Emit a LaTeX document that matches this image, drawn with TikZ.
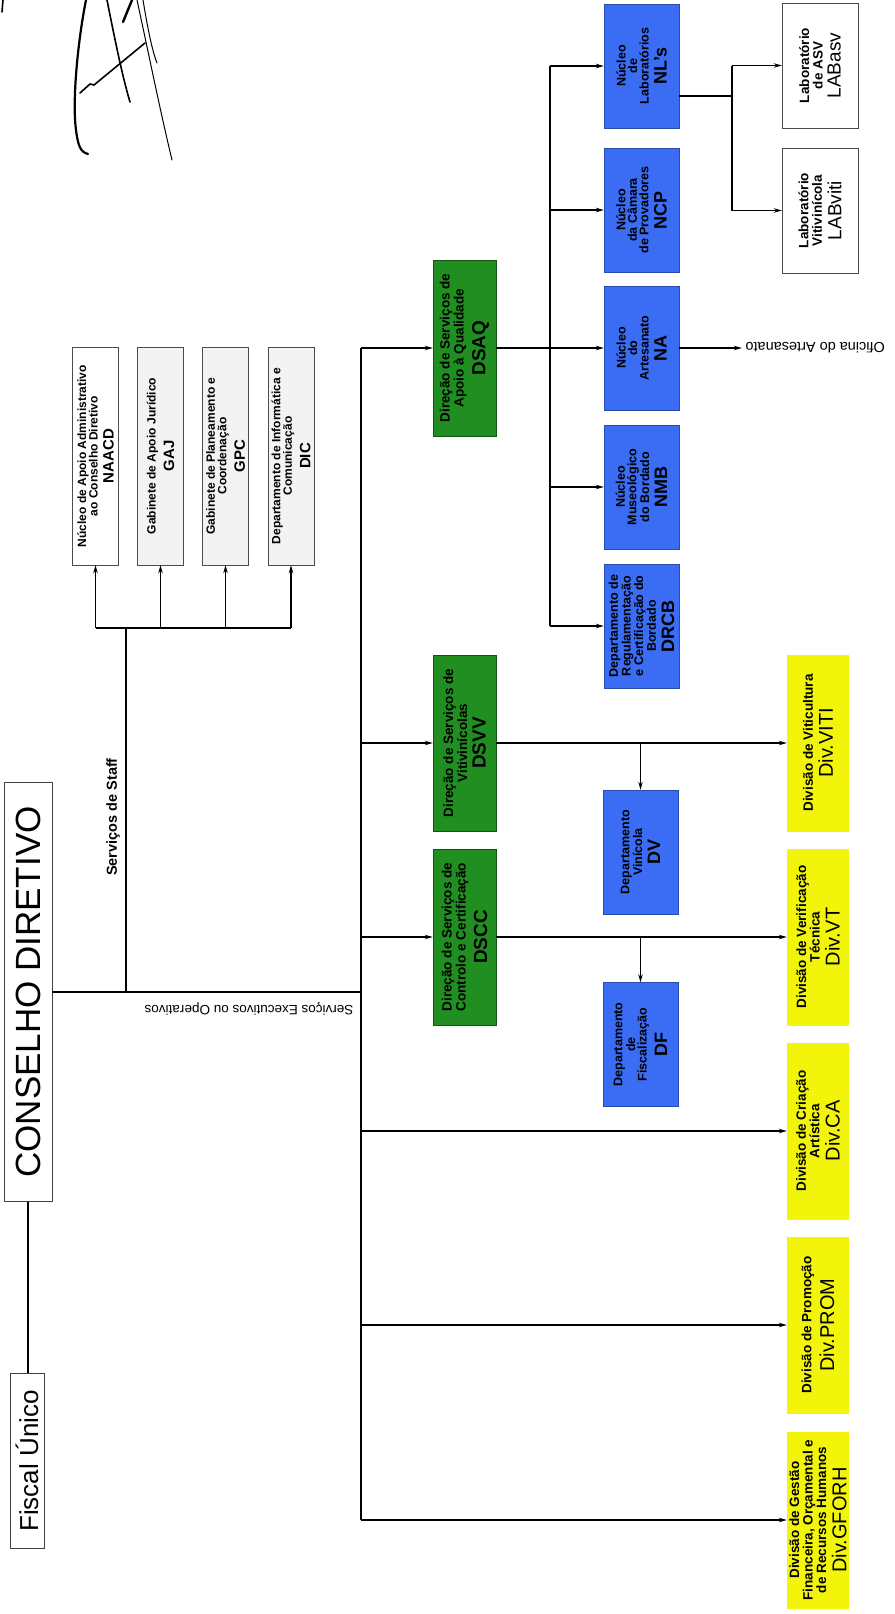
\documentclass[tikz,border=0pt]{standalone}
\usepackage{fontspec}
\setmainfont{Liberation Sans}
\usetikzlibrary{arrows.meta}
\definecolor{dsgreen}{RGB}{32,142,32}
\definecolor{nucblue}{RGB}{58,108,244}
\definecolor{divyellow}{RGB}{242,245,10}
\definecolor{staffgray}{RGB}{243,243,243}
\newcommand{\ab}[2]{\\[4.5pt]{\fontsize{#1}{#1}\selectfont #2}}

\begin{document}
\begin{tikzpicture}[x=1pt,y=-1pt]
		\useasboundingbox (0,0) rectangle (894,1614);
		\tikzstyle{box}=[rotate=90,align=center,inner sep=1pt,font=\bfseries\fontsize{10}{11}\selectfont]
		\tikzstyle{cdbox}=[rotate=90,draw=black!75,fill=white,inner sep=0pt,minimum width=419pt,minimum height=48pt,font=\fontsize{35}{35}\selectfont]
		\tikzstyle{fubox}=[rotate=90,draw=black!75,fill=white,inner sep=0pt,minimum width=175pt,minimum height=34pt,font=\fontsize{26}{26}\selectfont]
		\tikzstyle{staff}=[box,draw=black!70,fill=staffgray,minimum width=218pt,minimum height=46pt,font=\bfseries\fontsize{12}{11.5}\selectfont]
		\tikzstyle{dirbox}=[box,fill=dsgreen,draw=dsgreen!60!black,minimum width=176pt,minimum height=63pt,font=\bfseries\fontsize{13.5}{14}\selectfont]
		\tikzstyle{nucbox}=[box,fill=nucblue,draw=nucblue!70!black,minimum width=124pt,minimum height=75pt,font=\bfseries\fontsize{12.5}{11.5}\selectfont]
		\tikzstyle{divbox}=[box,fill=divyellow,minimum width=177pt,minimum height=62pt,font=\bfseries\fontsize{13.5}{13.5}\selectfont]
		\tikzstyle{labbox}=[box,draw=black!70,fill=white,minimum width=125pt,minimum height=76pt,font=\bfseries\fontsize{13.5}{13.5}\selectfont]
		\tikzstyle{wire}=[line width=1.2pt]
		\tikzstyle{conn}=[-{Stealth[length=8pt,width=4.5pt]},line width=1.2pt]
		\tikzstyle{pen}=[line width=1.6pt,line cap=round]

		% signature
		\draw[pen,line width=2.2pt] (86,0) .. controls (78,40) and (72,100) .. (76,130) .. controls (78,145) and (80,152) .. (88,154);
		\draw[pen] (107,0) .. controls (115,40) and (122,75) .. (130,102);
		\draw[pen,line width=1pt] (137,0) .. controls (150,60) and (160,110) .. (172,160);
		\draw[pen,line width=2.4pt] (132,0) -- (123,22);
		\draw[pen,line width=1pt] (143,0) .. controls (148,30) and (152,50) .. (157,63);
		\draw[pen] (80,93) -- (90,84) -- (94,85) -- (145,43);
		\draw[pen] (3,0) -- (2,12);

		% board
		\node[cdbox] (cd) at (28,992) {CONSELHO DIRETIVO};
		\node[fubox] (fu) at (27,1461) {Fiscal Único};

		% staff services
		\node[staff,fill=white] (naacd) at (95.5,456) {Núcleo de Apoio Administrativo\\ao Conselho Diretivo\ab{15}{NAACD}};
		\node[staff] (gaj) at (160.5,456) {Gabinete de Apoio Jurídico\ab{15}{GAJ}};
		\node[staff] (gpc) at (225.5,456) {Gabinete de Planeamento e\\Coordenação\ab{15}{GPC}};
		\node[staff] (dic) at (291,456) {Departamento de Informática e\\Comunicação\ab{15}{DIC}};

		% directorates
		\node[dirbox] (dsaq) at (464.5,348) {Direção de Serviços de\\Apoio à Qualidade\ab{19}{DSAQ}};
		\node[dirbox] (dsvv) at (464.5,743) {Direção de Serviços de\\Vitivinícolas\ab{19}{DSVV}};
		\node[dirbox] (dscc) at (464.5,937) {Direção de Serviços de\\Controlo e Certificação\ab{19}{DSCC}};

		% nuclei and departments
		\node[nucbox] (nls) at (641.5,66) {Núcleo\\de\\Laboratórios\ab{18}{NL's}};
		\node[nucbox] (ncp) at (641.5,210) {Núcleo\\da Câmara\\de Provadores\ab{18}{NCP}};
		\node[nucbox] (na) at (641.5,348) {Núcleo\\do\\Artesanato\ab{18}{NA}};
		\node[nucbox] (nmb) at (641.5,487) {Núcleo\\Museológico\\do Bordado\ab{18}{NMB}};
		\node[nucbox] (drcb) at (641.5,626) {Departamento de\\Regulamentação\\e Certificação do\\Bordado\ab{18}{DRCB}};
		\node[nucbox] (dv) at (640.5,852) {Departamento\\Vinícola\ab{18}{DV}};
		\node[nucbox] (df) at (640.5,1044.5) {Departamento\\de\\Fiscalização\ab{18}{DF}};

		% laboratories
		\node[labbox] (labasv) at (820,65.5) {Laboratório\\de ASV\ab{19}{\mdseries LABasv}};
		\node[labbox] (labviti) at (820,210.5) {Laboratório\\Vitivinícola\ab{19}{\mdseries LABviti}};

		% divisions
		\node[divbox] (viti) at (818,743) {Divisão de Viticultura\ab{20}{\mdseries Div.VITI}};
		\node[divbox] (vt) at (818,937) {Divisão de Verificação\\Técnica\ab{20}{\mdseries Div.VT}};
		\node[divbox] (ca) at (818,1131) {Divisão de Criação\\Artística\ab{20}{\mdseries Div.CA}};
		\node[divbox] (prom) at (818,1325) {Divisão de Promoção\ab{20}{\mdseries Div.PROM}};
		\node[divbox] (gforh) at (818,1520) {Divisão de Gestão\\Financeira, Orçamental e\\de Recursos Humanos\ab{20}{\mdseries Div.GFORH}};

		% labels
		\node[rotate=90,font=\bfseries\fontsize{14.5}{14.5}\selectfont] (stafflbl) at (113,817) {Serviços de Staff};
		\node[rotate=180,font=\fontsize{13.5}{13.5}\selectfont] (execlbl) at (249,1009) {Serviços Executivos ou Operativos};
		\node[rotate=180,anchor=east,font=\fontsize{14.5}{14.5}\selectfont] (ofi) at (742,348) {Oficina do Artesanato};

		% connectors
		\draw[wire] (cd.west) -- (cd.west |- fu.east);
		\coordinate (trunk) at (361,992);
		\coordinate (staffjn) at (126,992);
		\coordinate (staffbus) at (126,628);
		\draw[wire] (cd.south) -- (trunk);
		\draw[wire] (staffjn) -- (staffbus);
		\draw[wire] (naacd.west |- staffbus) -- (dic.west |- staffbus);
		\foreach \n in {naacd,gaj,gpc,dic}
			\draw[conn] (\n.west |- staffbus) -- (\n.west);

		\draw[wire] (trunk |- dsaq) -- (trunk |- gforh);
		\foreach \n in {dsaq,dsvv,dscc,ca,prom,gforh}
			\draw[conn] (trunk |- \n) -- (\n.north);
		\draw[conn] (dsvv.south) -- (viti.north);
		\draw[conn] (dscc.south) -- (vt.north);
		\draw[conn] (dv.east |- dsvv) -- (dv.east);
		\draw[conn] (df.east |- dscc) -- (df.east);

		\coordinate (nucbus) at (550,348);
		\draw[conn] (dsaq.south) -- (na.north);
		\draw[wire] (nucbus |- nls) -- (nucbus |- drcb);
		\foreach \n in {nls,ncp,nmb,drcb}
			\draw[conn] (nucbus |- \n) -- (\n.north);
		\draw[conn] (na.south) -- (ofi.east);

		\coordinate (labbus) at (732,96);
		\draw[wire] (nls.south |- labbus) -- (labbus);
		\draw[wire] (labbus |- labasv) -- (labbus |- labviti);
		\foreach \n in {labasv,labviti}
			\draw[conn] (labbus |- \n) -- (\n.north);
	\end{tikzpicture}
\end{document}
